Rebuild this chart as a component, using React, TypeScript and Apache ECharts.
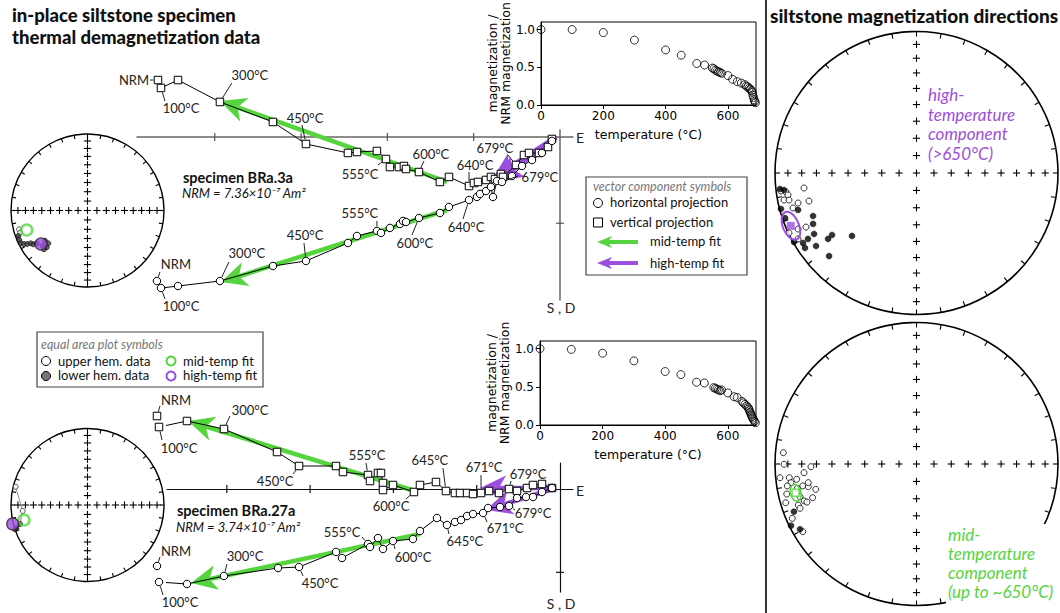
import React, { useEffect, useRef } from 'react';
import * as echarts from 'echarts';

const GREEN = '#56d43e';
const PURPLE = '#9b4fdc';
const SANS = 'Lato, "Noto Sans", sans-serif';
const MPL = '"DejaVu Sans", sans-serif';
const DEG = Math.PI / 180;

// ---------- specimen BRa.3a : orthogonal vector end-points (axis tick units; x = E, y = S / Down) ----------
const bra3aVertical: number[][] = [
  [-4.658, -0.66], [-4.623, -0.568], [-4.426, -0.66], [-3.94, -0.406], [-3.326, -0.174], [-2.943, 0.081],
  [-2.457, 0.185], [-2.352, 0.174], [-2.121, 0.162], [-2.016, 0.255], [-1.97, 0.348], [-1.866, 0.348],
  [-1.808, 0.336], [-1.784, 0.371], [-1.634, 0.406], [-1.391, 0.521], [-1.286, 0.463], [-1.054, 0.568],
  [-0.997, 0.533], [-0.95, 0.521], [-0.857, 0.498], [-0.8, 0.463], [-0.753, 0.487], [-0.684, 0.429],
  [-0.66, 0.463], [-0.51, 0.324], [-0.417, 0.209], [-0.359, 0.185], [-0.243, 0.185], [-0.139, 0.116],
  [-0.093, 0.023],
];
const bra3aHorizontal: number[][] = [
  [-4.67, 1.669], [-4.623, 1.75], [-4.426, 1.727], [-3.94, 1.669], [-3.326, 1.495], [-2.943, 1.437],
  [-2.457, 1.228], [-2.352, 1.147], [-2.121, 1.089], [-2.074, 1.112], [-1.97, 1.054], [-1.854, 1.008],
  [-1.819, 0.973], [-1.784, 0.985], [-1.634, 0.939], [-1.391, 0.881], [-1.286, 0.811], [-1.054, 0.73],
  [-0.962, 0.695], [-0.927, 0.66], [-0.857, 0.626], [-0.8, 0.579], [-0.776, 0.695], [-0.73, 0.51],
  [-0.672, 0.521], [-0.556, 0.452], [-0.44, 0.336], [-0.324, 0.267], [-0.209, 0.185], [-0.093, 0.046],
];
const bra3aMidVertical = [-1.309, 0.521, -3.94, -0.417];
const bra3aMidHorizontal = [-1.309, 0.846, -3.928, 1.68];
const bra3aHighVertical = [-0.046, 0.0, -0.776, 0.475];
const bra3aHighHorizontal = [-0.046, 0.012, -0.73, 0.521];
const bra3aVerticalLabels = [
  { i: 0, t: 'NRM', dx: -24, dy: 0, lx: -8, ly: 0 },
  { i: 1, t: '100°C', dx: 20, dy: 20, lx: 4, ly: 13 },
  { i: 3, t: '300°C', dx: 30, dy: -27, lx: 12, ly: -19 },
  { i: 5, t: '450°C', dx: -1, dy: -26, lx: -4, ly: -19 },
  { i: 9, t: '555°C', dx: -26, dy: 15, lx: -8, ly: 6 },
  { i: 14, t: '600°C', dx: 12, dy: -18, lx: 5, ly: -11 },
  { i: 17, t: '640°C', dx: 6, dy: -21, lx: 0, ly: -14 },
  { i: 25, t: '679°C', dx: -21, dy: -17, lx: -8, ly: -10 },
];
const bra3aHorizontalLabels = [
  { i: 0, t: 'NRM', dx: 19, dy: -17, lx: 3, ly: -9 },
  { i: 1, t: '100°C', dx: 20, dy: 18, lx: 4, ly: 11 },
  { i: 3, t: '300°C', dx: 27, dy: -28, lx: 9, ly: -19 },
  { i: 5, t: '450°C', dx: -1, dy: -26, lx: -2, ly: -18 },
  { i: 8, t: '555°C', dx: -17, dy: -18, lx: 0, ly: -10 },
  { i: 14, t: '600°C', dx: -4, dy: 25, lx: -7, ly: 17 },
  { i: 17, t: '640°C', dx: -3, dy: 27, lx: -6, ly: 19 },
  { i: 24, t: '679°C', dx: 38, dy: -5, lx: 16, ly: -6 },
];

// ---------- specimen BRa.27a ----------
const bra27aVertical: number[][] = [
  [-4.838, -0.876], [-4.814, -0.744], [-4.478, -0.816], [-4.034, -0.72], [-3.397, -0.444], [-3.133, -0.276],
  [-2.689, -0.276], [-2.605, -0.204], [-2.305, -0.168], [-2.281, -0.096], [-2.185, -0.192], [-2.149, -0.192],
  [-2.125, -0.072], [-2.125, 0.012], [-2.005, -0.048], [-1.753, 0.036], [-1.681, -0.048], [-1.489, -0.084],
  [-1.369, 0.024], [-1.261, 0.048], [-1.2, 0.048], [-1.116, 0.048], [-1.044, 0.06], [-0.948, 0.048],
  [-0.852, 0.024], [-0.732, 0.048], [-0.612, 0.0], [-0.516, 0.024], [-0.396, -0.012], [-0.324, -0.048],
  [-0.216, -0.06], [-0.096, -0.012],
];
const bra27aHorizontal: number[][] = [
  [-4.838, 0.924], [-4.814, 1.116], [-4.478, 1.14], [-4.034, 1.044], [-3.385, 0.948], [-3.133, 0.936],
  [-2.689, 0.756], [-2.617, 0.828], [-2.305, 0.66], [-2.281, 0.696], [-2.185, 0.588], [-2.125, 0.72],
  [-2.005, 0.624], [-1.765, 0.6], [-1.681, 0.504], [-1.477, 0.348], [-1.357, 0.432], [-1.261, 0.396],
  [-1.188, 0.372], [-1.116, 0.324], [-1.044, 0.3], [-0.924, 0.288], [-0.864, 0.228], [-0.72, 0.216],
  [-0.612, 0.204], [-0.516, 0.108], [-0.408, 0.096], [-0.324, 0.096], [-0.216, 0.036], [-0.096, -0.012],
];
const bra27aMidVertical = [-1.741, 0.024, -4.466, -0.816];
const bra27aMidHorizontal = [-1.681, 0.54, -4.43, 1.128];
const bra27aHighVertical = [-0.048, -0.012, -0.96, -0.012];
const bra27aHighHorizontal = [-0.048, -0.012, -0.888, 0.252];
const bra27aVerticalLabels = [
  { i: 0, t: 'NRM', dx: 19, dy: -16, lx: 3, ly: -10 },
  { i: 1, t: '100°C', dx: 20, dy: 21, lx: 3, ly: 13 },
  { i: 3, t: '300°C', dx: 26, dy: -19, lx: 6, ly: -13 },
  { i: 5, t: '450°C', dx: -24, dy: 15, lx: -6, ly: 8 },
  { i: 8, t: '555°C', dx: -1, dy: -20, lx: -2, ly: -12 },
  { i: 15, t: '600°C', dx: -23, dy: 14, lx: -8, ly: 7 },
  { i: 18, t: '645°C', dx: -16, dy: -31, lx: -3, ly: -23 },
  { i: 23, t: '671°C', dx: 3, dy: -26, lx: 0, ly: -18 },
  { i: 26, t: '679°C', dx: 19, dy: -15, lx: 2, ly: -8 },
];
const bra27aHorizontalLabels = [
  { i: 0, t: 'NRM', dx: 19, dy: -15, lx: 3, ly: -9 },
  { i: 1, t: '100°C', dx: 21, dy: 20, lx: 4, ly: 13 },
  { i: 3, t: '300°C', dx: 21, dy: -20, lx: 3, ly: -12 },
  { i: 5, t: '450°C', dx: 21, dy: 16, lx: 4, ly: 9 },
  { i: 8, t: '555°C', dx: -26, dy: -12, lx: -6, ly: -7 },
  { i: 12, t: '600°C', dx: 20, dy: 16, lx: 2, ly: 8 },
  { i: 16, t: '645°C', dx: 18, dy: 16, lx: 2, ly: 9 },
  { i: 21, t: '671°C', dx: 22, dy: 15, lx: 4, ly: 9 },
  { i: 24, t: '679°C', dx: 24, dy: 7, lx: 6, ly: 4 },
];

// ---------- normalised remanence vs temperature ----------
const bra3aSteps = [0, 100, 200, 300, 400, 450, 500, 525, 550, 555, 560, 565, 570, 575, 580, 600, 615, 630, 643, 654, 659, 664, 668, 672, 676, 678, 680, 682, 684, 686, 688];
const bra3aRemanence = [1.0, 1.0, 0.96, 0.86, 0.73, 0.66, 0.55, 0.53, 0.49, 0.48, 0.46, 0.45, 0.44, 0.43, 0.42, 0.39, 0.34, 0.31, 0.29, 0.27, 0.25, 0.24, 0.22, 0.21, 0.19, 0.17, 0.13, 0.1, 0.07, 0.05, 0.03];
const bra27aSteps = [0, 100, 200, 300, 400, 450, 500, 525, 555, 560, 565, 570, 575, 580, 600, 620, 630, 645, 650, 655, 660, 665, 667, 669, 671, 673, 675, 677, 679, 682, 685, 688];
const bra27aRemanence = [1.0, 0.99, 0.94, 0.84, 0.7, 0.66, 0.56, 0.55, 0.49, 0.48, 0.47, 0.46, 0.45, 0.46, 0.42, 0.37, 0.36, 0.31, 0.29, 0.27, 0.25, 0.23, 0.21, 0.19, 0.17, 0.15, 0.13, 0.11, 0.09, 0.07, 0.05, 0.03];
const magTicksX = [0, 200, 400, 600];
const magTicksY = [0, 0.5, 1.0];

// ---------- specimen equal-area plots (projected east, north; third value 1 = lower hemisphere) ----------
const bra3aDirections: number[][] = [
  [-0.895, -0.246, 0], [-0.882, -0.29, 0], [-0.904, -0.333, 1], [-0.891, -0.386, 1], [-0.873, -0.429, 1],
  [-0.83, -0.438, 1], [-0.787, -0.438, 1], [-0.742, -0.429, 1], [-0.708, -0.442, 1], [-0.664, -0.429, 1],
  [-0.586, -0.464, 1], [-0.556, -0.395, 1], [-0.512, -0.429, 1], [-0.533, -0.481, 1], [-0.569, -0.507, 1],
];
const bra3aMidFitDir = [[-0.795, -0.255]];
const bra3aHighFitDir = [[-0.608, -0.438]];
const bra27aDirections: number[][] = [
  [-0.939, 0.239, 0], [-0.847, -0.078, 0], [-0.882, -0.248, 1], [-0.93, -0.3, 1], [-0.948, -0.318, 1],
];
const bra27aMidFitDir = [[-0.83, -0.196]];
const bra27aHighFitDir = [[-0.978, -0.248]];

// ---------- site-level directions (projected east, north) ----------
const highUpper: number[][] = [
  [-0.795, -0.106], [-0.958, -0.127], [-0.922, -0.134], [-0.908, -0.155], [-0.936, -0.191], [-0.901, -0.191],
  [-0.837, -0.212], [-0.76, -0.198], [-0.873, -0.247], [-0.837, -0.396], [-0.781, -0.382], [-0.901, -0.424],
  [-0.837, -0.466],
];
const highLower: number[][] = [
  [-0.965, -0.113], [-0.936, -0.12], [-0.958, -0.254], [-0.837, -0.261], [-0.731, -0.304], [-0.929, -0.318],
  [-0.731, -0.36], [-0.724, -0.431], [-0.866, -0.488], [-0.802, -0.495], [-0.767, -0.466], [-0.788, -0.53],
  [-0.71, -0.516], [-0.625, -0.466], [-0.597, -0.438], [-0.456, -0.445], [-0.618, -0.587],
];
const highMean = { dec: 247.2, inc: 4.0, a95: 6.2 };
const midUpper: number[][] = [
  [-0.941, 0.08], [-0.936, -0.002], [-0.746, -0.019], [-0.795, -0.061], [-0.965, -0.097], [-0.899, -0.097],
  [-0.847, -0.108], [-0.887, -0.132], [-0.913, -0.155], [-0.804, -0.155], [-0.765, -0.16], [-0.765, -0.132],
  [-0.712, -0.179], [-0.842, -0.172], [-0.917, -0.212], [-0.823, -0.231], [-0.734, -0.238], [-0.924, -0.274],
  [-0.793, -0.261], [-0.774, -0.269], [-0.835, -0.29], [-0.823, -0.313], [-0.878, -0.384], [-0.804, -0.478],
];
const midLower: number[][] = [[-0.866, -0.337], [-0.887, -0.436], [-0.823, -0.461]];
const midMean = { dec: 256.6, inc: -13.2, a95: 3.8 };

// ---------- helpers ----------
function eqArea(inc: number) {
  return Math.SQRT2 * Math.sin(((90 - Math.abs(inc)) / 2) * DEG);
}
function project(dec: number, inc: number) {
  const r = eqArea(inc);
  return [r * Math.sin(dec * DEG), r * Math.cos(dec * DEG)];
}
function cone(dec: number, inc: number, a95: number) {
  const d = dec * DEG, i = inc * DEG, a = a95 * DEG;
  const m = [Math.cos(i) * Math.cos(d), Math.cos(i) * Math.sin(d), Math.sin(i)];
  const u = [-Math.sin(i) * Math.cos(d), -Math.sin(i) * Math.sin(d), Math.cos(i)];
  const v = [-Math.sin(d), Math.cos(d), 0];
  const s = inc >= 0 ? 1 : -1;
  const pts: number[][] = [];
  for (let k = 0; k <= 90; k++) {
    const t = (k / 90) * 2 * Math.PI;
    const p = [0, 1, 2].map((j) => Math.cos(a) * m[j] + Math.sin(a) * (Math.cos(t) * u[j] + Math.sin(t) * v[j]));
    const dd = Math.atan2(p[1], p[0]);
    const ii = (Math.asin(p[2]) / DEG) * s;
    const r = Math.SQRT2 * Math.sin(((90 - ii) / 2) * DEG);
    pts.push([r * Math.sin(dd), r * Math.cos(dd)]);
  }
  return pts;
}
function arrowPoints(tip: number[], ux: number, uy: number, L: number, W: number) {
  const px = -uy, py = ux;
  const notch = [tip[0] - ux * L * 0.72, tip[1] - uy * L * 0.72];
  return {
    notch,
    pts: [tip, [tip[0] - ux * L + px * W, tip[1] - uy * L + py * W], notch, [tip[0] - ux * L - px * W, tip[1] - uy * L - py * W]],
  };
}

function fitSeries(gi: number, fits: number[][], colors: string[]) {
  return {
    type: 'custom', xAxisIndex: gi, yAxisIndex: gi, silent: true, z: 2, data: fits, clip: false,
    renderItem: (params: any, api: any) => {
      const p1 = api.coord([api.value(0), api.value(1)]);
      const p2 = api.coord([api.value(2), api.value(3)]);
      const col = colors[params.dataIndex];
      const dx = p2[0] - p1[0], dy = p2[1] - p1[1];
      const len = Math.hypot(dx, dy);
      const a = arrowPoints(p2, dx / len, dy / len, 26, 12.5);
      return {
        type: 'group',
        children: [
          { type: 'line', shape: { x1: p1[0], y1: p1[1], x2: a.notch[0], y2: a.notch[1] }, style: { stroke: col, lineWidth: 4.5 } },
          { type: 'polygon', shape: { points: a.pts }, style: { fill: col } },
        ],
      };
    },
  };
}
function tickSeries(gi: number, color: string) {
  return {
    type: 'custom', xAxisIndex: gi, yAxisIndex: gi, silent: true, z: 2, clip: false,
    data: [[-4, 0, 0], [-3, 0, 0], [-2, 0, 0], [-1, 0, 0], [0, 1, 1]],
    renderItem: (params: any, api: any) => {
      const p = api.coord([api.value(0), api.value(1)]);
      const vert = api.value(2) === 0;
      const a = 4;
      return {
        type: 'line',
        shape: vert ? { x1: p[0], y1: p[1] - a, x2: p[0], y2: p[1] + a } : { x1: p[0] - a, y1: p[1], x2: p[0] + a, y2: p[1] },
        style: { stroke: color, lineWidth: 1.2 },
      };
    },
  };
}
function labelSeries(gi: number, pts: number[][], labels: any[]) {
  return {
    type: 'custom', xAxisIndex: gi, yAxisIndex: gi, silent: true, z: 6, clip: false,
    data: labels.map((l) => [pts[l.i][0], pts[l.i][1]]),
    renderItem: (params: any, api: any) => {
      const l = labels[params.dataIndex];
      const p = api.coord([api.value(0), api.value(1)]);
      const len = Math.hypot(l.lx, l.ly);
      const s = len ? 4.5 / len : 0;
      const children: any[] = [];
      if (len > 5) {
        children.push({ type: 'line', shape: { x1: p[0] + l.lx * s, y1: p[1] + l.ly * s, x2: p[0] + l.lx, y2: p[1] + l.ly }, style: { stroke: '#222', lineWidth: 1 } });
      }
      children.push({
        type: 'text',
        style: { text: l.t, x: p[0] + l.dx, y: p[1] + l.dy, textAlign: 'center', textVerticalAlign: 'middle', align: 'center', verticalAlign: 'middle', font: '13px Lato', fill: '#222' },
      });
      return { type: 'group', children };
    },
  };
}
function netFrame(gi: number, big: boolean) {
  return {
    type: 'custom', xAxisIndex: gi, yAxisIndex: gi, silent: true, z: 1, data: [[0, 0]], clip: false,
    renderItem: (params: any, api: any) => {
      const c = api.coord([0, 0]);
      const e = api.coord([1, 0]);
      const R = e[0] - c[0];
      const ch: any[] = [{ type: 'circle', shape: { cx: c[0], cy: c[1], r: R }, style: { fill: '#fff', stroke: '#000', lineWidth: big ? 1.6 : 1.4 } }];
      const tl = big ? 5 : 4;
      for (let d = 0; d < 360; d += 10) {
        const sx = Math.sin(d * DEG), sy = -Math.cos(d * DEG);
        ch.push({ type: 'line', shape: { x1: c[0] + sx * R, y1: c[1] + sy * R, x2: c[0] + sx * (R - tl), y2: c[1] + sy * (R - tl) }, style: { stroke: '#000', lineWidth: 1.1 } });
      }
      const arm = 3.6;
      const plus = (x: number, y: number) => {
        ch.push({ type: 'line', shape: { x1: x - arm, y1: y, x2: x + arm, y2: y }, style: { stroke: '#000', lineWidth: 1.1 } });
        ch.push({ type: 'line', shape: { x1: x, y1: y - arm, x2: x, y2: y + arm }, style: { stroke: '#000', lineWidth: 1.1 } });
      };
      plus(c[0], c[1]);
      for (let inc = 80; inc >= 10; inc -= 10) {
        const r = eqArea(inc) * R;
        plus(c[0] + r, c[1]); plus(c[0] - r, c[1]); plus(c[0], c[1] + r); plus(c[0], c[1] - r);
      }
      return { type: 'group', children: ch };
    },
  };
}

function zijX(gi: number, min: number, max: number, color: string, w: number) {
  return { gridIndex: gi, type: 'value', min, max, axisLine: { show: true, onZero: true, lineStyle: { color, width: w } }, axisTick: { show: false }, axisLabel: { show: false }, splitLine: { show: false } };
}
function zijY(gi: number, min: number, max: number, color: string, w: number) {
  return { gridIndex: gi, type: 'value', inverse: true, min, max, axisLine: { show: true, onZero: true, lineStyle: { color, width: w } }, axisTick: { show: false }, axisLabel: { show: false }, splitLine: { show: false } };
}
function magX(gi: number) {
  return {
    gridIndex: gi, type: 'value', min: 0, max: 690,
    axisLine: { show: true, onZero: false, lineStyle: { color: '#000', width: 1 } },
    axisTick: { show: true, length: 4, customValues: magTicksX, lineStyle: { color: '#000' } },
    axisLabel: { customValues: magTicksX, fontFamily: MPL, fontSize: 12, color: '#000', margin: 5 },
    splitLine: { show: false },
    name: 'temperature (°C)', nameLocation: 'middle', nameGap: 23,
    nameTextStyle: { fontFamily: MPL, fontSize: 12.5, color: '#000' },
  };
}
function magY(gi: number) {
  return {
    gridIndex: gi, type: 'value', min: 0, max: 1.1,
    axisLine: { show: true, onZero: false, lineStyle: { color: '#000', width: 1 } },
    axisTick: { show: true, length: 4, customValues: magTicksY, lineStyle: { color: '#000' } },
    axisLabel: { customValues: magTicksY, fontFamily: MPL, fontSize: 12, color: '#000', margin: 6, formatter: (v: number) => v.toFixed(1) },
    splitLine: { show: false },
    name: 'magnetization /\nNRM magnetization', nameLocation: 'middle', nameGap: 28, nameRotate: 90,
    nameTextStyle: { fontFamily: MPL, fontSize: 12.5, color: '#000', lineHeight: 13 },
  };
}
function netAxis(gi: number) {
  return { gridIndex: gi, type: 'value', min: -1, max: 1, show: false };
}

function zijSeries(gi: number, data: number[][], symbol: string) {
  return {
    type: 'line', xAxisIndex: gi, yAxisIndex: gi, data, symbol, symbolSize: 7.5, showSymbol: true, silent: true, z: 4, clip: false,
    lineStyle: { color: '#000', width: 1 }, itemStyle: { color: '#fff', borderColor: '#000', borderWidth: 1 },
  };
}
function magSeries(gi: number, steps: number[], rem: number[]) {
  return {
    type: 'scatter', xAxisIndex: gi, yAxisIndex: gi, silent: true, z: 3, clip: false,
    data: steps.map((t, i) => [t, rem[i]]), symbol: 'circle', symbolSize: 8,
    itemStyle: { color: 'rgba(0,0,0,0)', borderColor: '#000', borderWidth: 1 },
  };
}
function dirSeries(gi: number, data: number[][], size: number) {
  return [
    { type: 'line', xAxisIndex: gi, yAxisIndex: gi, data: data.map((d) => [d[0], d[1]]), showSymbol: false, symbol: 'none', silent: true, z: 2, clip: false, lineStyle: { color: '#777', width: 0.8 } },
    {
      type: 'scatter', xAxisIndex: gi, yAxisIndex: gi, data, symbolSize: size, silent: true, z: 3, clip: false,
      itemStyle: { color: (p: any) => (p.value[2] === 1 ? '#444' : '#fff'), borderColor: '#000', borderWidth: 0.8 },
    },
  ];
}
function ringSeries(gi: number, data: number[][], color: string, filled: boolean) {
  return {
    type: 'scatter', xAxisIndex: gi, yAxisIndex: gi, data, symbolSize: filled ? 12 : 11, silent: true, z: 5, clip: false,
    itemStyle: filled ? { color, borderColor: '#222', borderWidth: 1.2 } : { color: 'rgba(0,0,0,0)', borderColor: color, borderWidth: 2.5 },
  };
}
function pointSeries(gi: number, data: number[][], filled: boolean) {
  return {
    type: 'scatter', xAxisIndex: gi, yAxisIndex: gi, data, symbolSize: 6, silent: true, z: 3, clip: false,
    itemStyle: filled ? { color: '#000', borderColor: '#000', borderWidth: 0.5 } : { color: '#fff', borderColor: '#000', borderWidth: 1 },
  };
}

function legendArrow(x1: number, x2: number, y: number, color: string) {
  const a = arrowPoints([x2, y], -1, 0, 15, 6);
  return [
    { type: 'line', z: 101, shape: { x1, y1: y, x2: a.notch[0], y2: y }, style: { stroke: color, lineWidth: 4 } },
    { type: 'polygon', z: 101, shape: { points: a.pts }, style: { fill: color } },
  ];
}
function txt(x: number, y: number, text: string, font: string, fill = '#111', extra: any = {}) {
  return { type: 'text', x, y, z: 102, style: { text, font, fill, textVerticalAlign: 'middle', verticalAlign: 'middle', ...extra } };
}

function buildOption() {
  const hiMeanPt = project(highMean.dec, highMean.inc);
  const midMeanPt = project(midMean.dec, midMean.inc);
  const graphic: any[] = [
    { type: 'line', z: 100, shape: { x1: 766, y1: 0, x2: 766, y2: 613 }, style: { stroke: '#333', lineWidth: 2 } },
    txt(12, 15, 'in-place siltstone specimen', `900 18.5px ${SANS}`, '#111'),
    txt(12, 37, 'thermal demagnetization data', `900 18.5px ${SANS}`, '#111'),
    txt(770, 15, 'siltstone magnetization directions', `900 19px ${SANS}`, '#111'),
    txt(183, 177, 'specimen BRa.3a', `bold 14.5px ${SANS}`, '#111'),
    txt(182, 193, 'NRM = 7.36×10⁻⁷ Am²', `italic 13px ${SANS}`, '#111'),
    txt(177, 510, 'specimen BRa.27a', `bold 14.5px ${SANS}`, '#111'),
    txt(176, 527, 'NRM = 3.74×10⁻⁷ Am²', `italic 13px ${SANS}`, '#111'),
    txt(576, 137, 'E', `14px ${SANS}`, '#222'),
    txt(561, 307, 'S , D', `14px ${SANS}`, '#222', { textAlign: 'center', align: 'center' }),
    txt(576, 490, 'E', `14px ${SANS}`, '#222'),
    txt(561, 603, 'S , D', `14px ${SANS}`, '#222', { textAlign: 'center', align: 'center' }),
    // vector component legend
    { type: 'rect', z: 100, shape: { x: 586, y: 177, width: 161, height: 98 }, style: { fill: '#fff', stroke: '#444', lineWidth: 1.2 } },
    txt(593, 186, 'vector component symbols', `italic 12.5px ${SANS}`, '#777'),
    { type: 'circle', z: 101, shape: { cx: 598, cy: 203, r: 4.5 }, style: { fill: '#fff', stroke: '#000', lineWidth: 1 } },
    txt(610, 202, 'horizontal projection', `13px ${SANS}`, '#111'),
    { type: 'rect', z: 101, shape: { x: 593.5, y: 218, width: 9, height: 9 }, style: { fill: '#fff', stroke: '#000', lineWidth: 1 } },
    txt(610, 222, 'vertical projection', `13px ${SANS}`, '#111'),
    ...legendArrow(638, 597, 242, GREEN),
    txt(650, 241, 'mid-temp fit', `13px ${SANS}`, '#111'),
    ...legendArrow(638, 597, 263, PURPLE),
    txt(650, 263, 'high-temp fit', `13px ${SANS}`, '#111'),
    // equal-area legend
    { type: 'rect', z: 100, shape: { x: 37, y: 332, width: 226, height: 55 }, style: { fill: '#fff', stroke: '#444', lineWidth: 1.2 } },
    txt(41, 344, 'equal area plot symbols', `italic 12.5px ${SANS}`, '#777'),
    { type: 'circle', z: 101, shape: { cx: 46, cy: 361, r: 4.5 }, style: { fill: '#fff', stroke: '#000', lineWidth: 1 } },
    txt(58, 361, 'upper hem. data', `13px ${SANS}`, '#111'),
    { type: 'circle', z: 101, shape: { cx: 46, cy: 376, r: 4.5 }, style: { fill: '#777', stroke: '#000', lineWidth: 1 } },
    txt(58, 375, 'lower hem. data', `13px ${SANS}`, '#111'),
    { type: 'circle', z: 101, shape: { cx: 171, cy: 361, r: 4.5 }, style: { fill: 'none', stroke: GREEN, lineWidth: 2 } },
    txt(183, 361, 'mid-temp fit', `13px ${SANS}`, '#111'),
    { type: 'circle', z: 101, shape: { cx: 171, cy: 376, r: 4.5 }, style: { fill: 'none', stroke: PURPLE, lineWidth: 2 } },
    txt(183, 375, 'high-temp fit', `13px ${SANS}`, '#111'),
    // component annotations
    { type: 'text', x: 928, y: 85, z: 102, style: { text: 'high-\ntemperature\ncomponent\n(>650°C)', font: `italic 17px ${SANS}`, fill: PURPLE, lineHeight: 19.5, textVerticalAlign: 'top', verticalAlign: 'top' } },
    { type: 'text', x: 946, y: 524, z: 102, style: { text: 'mid-\ntemperature\ncomponent\n(up to ~650°C)', font: `italic 17px ${SANS}`, fill: GREEN, lineHeight: 19, textVerticalAlign: 'top', verticalAlign: 'top', backgroundColor: '#fff', padding: [1, 2, 3, 2] } },
  ];

  return {
    animation: false,
    backgroundColor: '#fff',
    textStyle: { fontFamily: SANS },
    grid: [
      { left: 137, top: 130, width: 436, height: 170 },
      { left: 167, top: 463, width: 406, height: 129 },
      { left: 541, top: 22, width: 215, height: 83, show: true, borderColor: '#000', borderWidth: 1 },
      { left: 540, top: 341, width: 216, height: 84, show: true, borderColor: '#000', borderWidth: 1 },
      { left: 11, top: 134, width: 153, height: 153 },
      { left: 11, top: 428.5, width: 153, height: 153 },
      { left: 775, top: 31.5, width: 283, height: 283 },
      { left: 775, top: 322.5, width: 283, height: 283 },
    ],
    xAxis: [
      zijX(0, -4.901, 0.151, '#666', 1.5), zijX(1, -4.718, 0.156, '#111', 1.2), magX(2), magX(3),
      netAxis(4), netAxis(5), netAxis(6), netAxis(7),
    ],
    yAxis: [
      zijY(0, -0.081, 1.889, '#666', 1.5), zijY(1, -0.312, 1.236, '#111', 1.2), magY(2), magY(3),
      netAxis(4), netAxis(5), netAxis(6), netAxis(7),
    ],
    series: [
      tickSeries(0, '#555'), tickSeries(1, '#111'),
      fitSeries(0, [bra3aMidVertical, bra3aMidHorizontal, bra3aHighVertical, bra3aHighHorizontal], [GREEN, GREEN, PURPLE, PURPLE]),
      fitSeries(1, [bra27aMidVertical, bra27aMidHorizontal, bra27aHighVertical, bra27aHighHorizontal], [GREEN, GREEN, PURPLE, PURPLE]),
      zijSeries(0, bra3aVertical, 'rect'), zijSeries(0, bra3aHorizontal, 'circle'),
      zijSeries(1, bra27aVertical, 'rect'), zijSeries(1, bra27aHorizontal, 'circle'),
      labelSeries(0, bra3aVertical, bra3aVerticalLabels), labelSeries(0, bra3aHorizontal, bra3aHorizontalLabels),
      labelSeries(1, bra27aVertical, bra27aVerticalLabels), labelSeries(1, bra27aHorizontal, bra27aHorizontalLabels),
      magSeries(2, bra3aSteps, bra3aRemanence), magSeries(3, bra27aSteps, bra27aRemanence),
      netFrame(4, false), netFrame(5, false), netFrame(6, true), netFrame(7, true),
      ...dirSeries(4, bra3aDirections, 5), ...dirSeries(5, bra27aDirections, 5),
      ringSeries(4, bra3aMidFitDir, GREEN, false), ringSeries(4, bra3aHighFitDir, PURPLE, true),
      ringSeries(5, bra27aMidFitDir, GREEN, false), ringSeries(5, bra27aHighFitDir, PURPLE, true),
      pointSeries(6, highUpper, false), pointSeries(6, highLower, true),
      { type: 'line', xAxisIndex: 6, yAxisIndex: 6, data: cone(highMean.dec, highMean.inc, highMean.a95), showSymbol: false, symbol: 'none', silent: true, z: 5, clip: false, lineStyle: { color: PURPLE, width: 2 } },
      { type: 'scatter', xAxisIndex: 6, yAxisIndex: 6, data: [hiMeanPt], symbol: 'rect', symbolSize: 8, silent: true, z: 6, itemStyle: { color: PURPLE } },
      pointSeries(7, midUpper, false), pointSeries(7, midLower, true),
      { type: 'line', xAxisIndex: 7, yAxisIndex: 7, data: cone(midMean.dec, midMean.inc, midMean.a95), showSymbol: false, symbol: 'none', silent: true, z: 5, clip: false, lineStyle: { color: GREEN, width: 1.5 } },
      { type: 'scatter', xAxisIndex: 7, yAxisIndex: 7, data: [midMeanPt], symbol: 'rect', symbolSize: 7, silent: true, z: 6, itemStyle: { color: '#fff', borderColor: GREEN, borderWidth: 1.5 } },
    ],
    graphic,
  };
}

export default function App() {
  const ref = useRef<HTMLDivElement>(null);
  useEffect(() => {
    document.body.style.margin = '0';
    const chart = echarts.init(ref.current!, null, { renderer: 'svg', width: 1060, height: 613 });
    chart.setOption(buildOption() as any);
    return () => chart.dispose();
  }, []);
  return <div ref={ref} style={{ width: 1060, height: 613, background: '#fff' }} />;
}
